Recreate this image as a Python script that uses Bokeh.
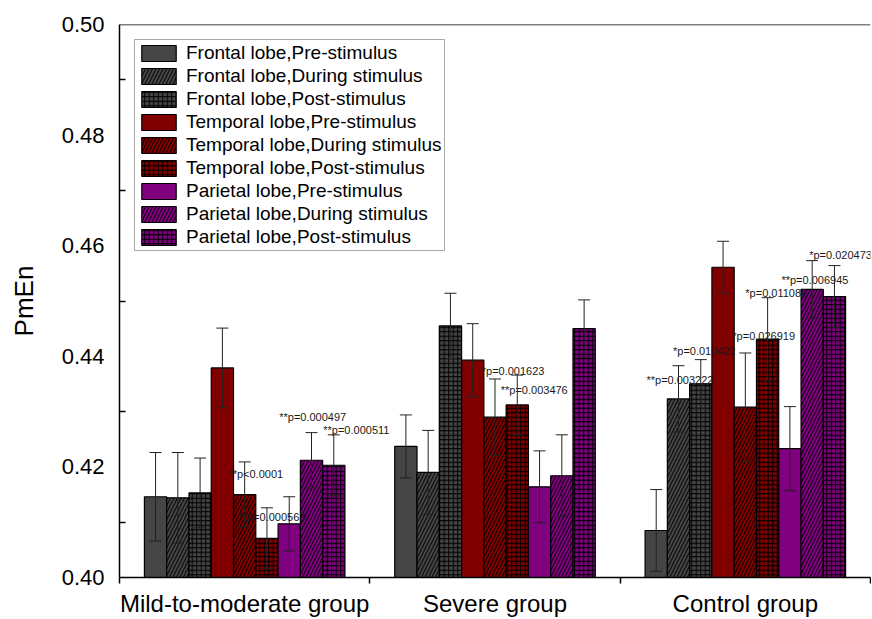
from bokeh.plotting import figure
from bokeh.models import (ColumnDataSource, Whisker, TeeHead, FixedTicker, Legend,
                          LegendItem, Span, Range1d, NumeralTickFormatter)
from bokeh.core.properties import value
from bokeh.embed import file_html
from bokeh.resources import INLINE

# ---------------- data ----------------
groups = ["Mild-to-moderate group", "Severe group", "Control group"]
series_names = [
    "Frontal lobe,Pre-stimulus", "Frontal lobe,During stimulus", "Frontal lobe,Post-stimulus",
    "Temporal lobe,Pre-stimulus", "Temporal lobe,During stimulus", "Temporal lobe,Post-stimulus",
    "Parietal lobe,Pre-stimulus", "Parietal lobe,During stimulus", "Parietal lobe,Post-stimulus",
]

frontal_pre = [0.4146, 0.4237, 0.4085]
frontal_during = [0.4144, 0.4190, 0.4323]
frontal_post = [0.4153, 0.4455, 0.4350]
temporal_pre = [0.4379, 0.4393, 0.4561]
temporal_during = [0.4150, 0.4290, 0.4308]
temporal_post = [0.4071, 0.4312, 0.4431]
parietal_pre = [0.4097, 0.4164, 0.4233]
parietal_during = [0.4212, 0.4184, 0.4521]
parietal_post = [0.4203, 0.4450, 0.4508]

frontal_pre_err = [0.0080, 0.0057, 0.0074]
frontal_during_err = [0.0082, 0.0076, 0.0060]
frontal_post_err = [0.0063, 0.0059, 0.0044]
temporal_pre_err = [0.0072, 0.0066, 0.0047]
temporal_during_err = [0.0059, 0.0069, 0.0098]
temporal_post_err = [0.0055, 0.0054, 0.0075]
parietal_pre_err = [0.0049, 0.0065, 0.0076]
parietal_during_err = [0.0050, 0.0074, 0.0052]
parietal_post_err = [0.0055, 0.0052, 0.0056]

y_ticks = [0.40, 0.42, 0.44, 0.46, 0.48, 0.50]
y_minor_ticks = [0.41, 0.43, 0.45, 0.47, 0.49]

ann_text = ["**p<0.0001", "**p=0.000563", "**p=0.000497", "**p=0.000511",
            "*p=0.001623", "**p=0.003476",
            "**p=0.003222", "*p=0.010422", "*p=0.026919", "*p=0.011088",
            "**p=0.006945", "*p=0.020473"]
ann_x = [0.435, 0.475, 0.638, 0.814, 1.447, 1.523, 2.105, 2.211, 2.448, 2.500, 2.644, 2.755]
ann_y = [0.4187, 0.4109, 0.4291, 0.4267, 0.4374, 0.4339, 0.4357, 0.4410, 0.4437, 0.4515,
         0.4538, 0.4583]

means = [frontal_pre, frontal_during, frontal_post, temporal_pre, temporal_during,
         temporal_post, parietal_pre, parietal_during, parietal_post]
errs = [frontal_pre_err, frontal_during_err, frontal_post_err, temporal_pre_err,
        temporal_during_err, temporal_post_err, parietal_pre_err, parietal_during_err,
        parietal_post_err]

# ---------------- styles ----------------
colors = ["#454545"] * 3 + ["#800000"] * 3 + ["#800080"] * 3
patterns = [" ", "/", "+"] * 3
FONT = "Liberation Sans"
bar_w = 0.089

p = figure(width=871, height=619, output_backend="svg", toolbar_location=None,
           x_range=Range1d(0, 3), y_range=Range1d(0.40, 0.50),
           min_border_left=119, min_border_top=24, min_border_right=1, min_border_bottom=40)
p.outline_line_color = None
p.xgrid.grid_line_color = None
p.ygrid.grid_line_color = None
p.background_fill_color = "white"
p.border_fill_color = "white"

items = []
for i, (name, m, e) in enumerate(zip(series_names, means, errs)):
    xs = [g + 0.5 + (i - 4) * bar_w for g in range(len(groups))]
    src = ColumnDataSource(dict(x=xs, top=m,
                                upper=[a + b for a, b in zip(m, e)],
                                lower=[a - b for a, b in zip(m, e)]))
    kw = {}
    if patterns[i] != " ":
        kw = dict(hatch_pattern=patterns[i], hatch_color="black", hatch_weight=1,
                  hatch_scale=7 if patterns[i] == "/" else 4.5)
    r = p.vbar(x="x", width=bar_w, bottom=0.40, top="top", source=src,
               fill_color=colors[i], line_color="black", line_width=1.2, **kw)
    w = Whisker(source=src, base="x", upper="upper", lower="lower",
                line_color="#222222", line_width=1, level="annotation",
                upper_head=TeeHead(size=12, line_color="#222222", line_width=1),
                lower_head=TeeHead(size=12, line_color="#222222", line_width=1))
    p.add_layout(w)
    items.append(LegendItem(label=name, renderers=[r]))

p.text(x=ann_x, y=ann_y, text=ann_text, text_font=value(FONT), text_font_size="11px",
       text_baseline="middle", text_align="left", text_color="#1a1a1a")

p.add_layout(Span(location=0.50, dimension="width", line_color="black", line_width=1.5))

# axes
p.yaxis.ticker = FixedTicker(ticks=y_ticks, minor_ticks=y_minor_ticks)
p.yaxis.formatter = NumeralTickFormatter(format="0.00")
p.yaxis.major_tick_in = 0
p.yaxis.major_tick_out = 0
p.yaxis.minor_tick_in = 6
p.yaxis.minor_tick_out = 0
p.yaxis.major_label_standoff = 15
p.yaxis.major_label_text_font = FONT
p.yaxis.major_label_text_font_size = "22px"
p.yaxis.major_label_text_color = "black"
p.yaxis.axis_label = "PmEn"
p.yaxis.axis_label_text_font = FONT
p.yaxis.axis_label_text_font_size = "26px"
p.yaxis.axis_label_text_font_style = "normal"
p.yaxis.axis_label_text_color = "black"
p.yaxis.axis_label_standoff = 20

p.xaxis.ticker = FixedTicker(ticks=[0.5, 1.5, 2.5], minor_ticks=[0, 1, 2, 3])
p.xaxis.major_label_overrides = {0.5: groups[0], 1.5: groups[1], 2.5: groups[2]}
p.xaxis.major_tick_in = 0
p.xaxis.major_tick_out = 0
p.xaxis.minor_tick_in = 0
p.xaxis.minor_tick_out = 6
p.xaxis.major_label_standoff = 6
p.xaxis.major_label_text_font = FONT
p.xaxis.major_label_text_font_size = "24px"
p.xaxis.major_label_text_color = "black"

for ax in (p.xaxis, p.yaxis):
    ax.axis_line_width = 1.5
    ax.axis_line_color = "black"
    ax.minor_tick_line_color = "black"
    ax.minor_tick_line_width = 1.5

legend = Legend(items=items, location="top_left")
legend.label_text_font = FONT
legend.label_text_font_size = "19px"
legend.label_text_color = "black"
legend.glyph_width = 43
legend.glyph_height = 20
legend.label_height = 20
legend.label_standoff = 6
legend.spacing = 1
legend.padding = 2
legend.margin = 15
legend.border_line_color = "#555555"
legend.border_line_width = 1.5
legend.background_fill_alpha = 1
p.add_layout(legend)

open("out.html", "w").write(file_html(p, INLINE))
